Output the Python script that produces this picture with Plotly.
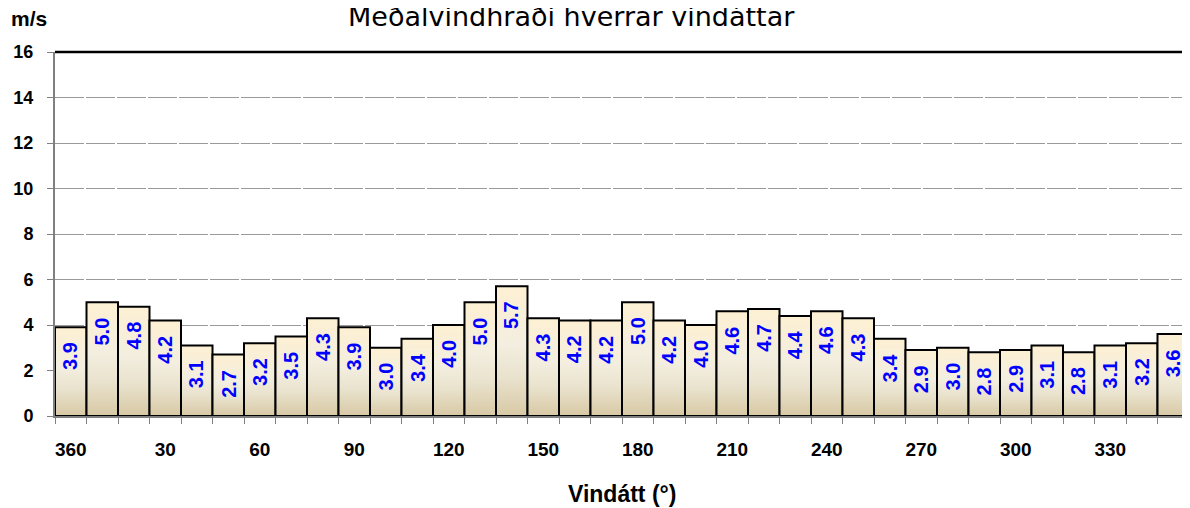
import plotly.graph_objects as go

title_text = "Meðalvindhraði hverrar vindáttar"
directions = list(range(0, 360, 10))
speed = [3.9, 5.0, 4.8, 4.2, 3.1, 2.7, 3.2, 3.5, 4.3, 3.9, 3.0, 3.4,
         4.0, 5.0, 5.7, 4.3, 4.2, 4.2, 5.0, 4.2, 4.0, 4.6, 4.7, 4.4,
         4.6, 4.3, 3.4, 2.9, 3.0, 2.8, 2.9, 3.1, 2.8, 3.1, 3.2, 3.6]
tick_labels = ["360" if d == 0 else str(d) for d in directions]

bar_scale = [[0, "#D8C9A5"], [0.3, "#E9E2CD"], [0.55, "#F3EEDF"], [1, "#FDF0D3"]]
FONT = "Liberation Sans, Arial, sans-serif"

# the page body adds an 8px offset, so the figure is laid out in window pixels minus that
OFF = 8
W, H = 1190 - OFF, 508 - OFF
ml, mt = 55 - OFF, 52 - OFF
mr = W - (1189 - OFF)
mb = H - (416 - OFF)
pw, ph = W - ml - mr, H - mt - mb


def px_x(x):
    return (x - OFF - ml) / pw


def px_y(y):
    return (H - (y - OFF) - mb) / ph


fig = go.Figure()

# each bar drawn as a filled box so it can carry a vertical gradient
for i, v in enumerate(speed):
    fig.add_trace(go.Scatter(
        x=[i - 0.5, i - 0.5, i + 0.5, i + 0.5, i - 0.5],
        y=[0, v, v, 0, 0],
        mode="lines", fill="toself",
        fillgradient=dict(type="vertical", colorscale=bar_scale, start=0, stop=v),
        line=dict(color="black", width=2),
        hoverinfo="skip", showlegend=False,
    ))

for i, v in enumerate(speed):
    fig.add_annotation(x=i, y=v, text="<b>%.1f</b>" % v, textangle=-90, showarrow=False,
                       xanchor="center", yanchor="middle", yshift=-29,
                       font=dict(family=FONT, size=20, color="#0000FF"))

fig.add_annotation(x=px_x(571), y=px_y(22), xref="paper", yref="paper", text=title_text,
                   showarrow=False, xanchor="center", yanchor="bottom", yshift=-12,
                   font=dict(family="DejaVu Sans", size=27, color="black"))
fig.add_annotation(x=px_x(29), y=px_y(18), xref="paper", yref="paper", text="<b>m/s</b>",
                   showarrow=False, xanchor="center", yanchor="middle",
                   font=dict(family=FONT, size=21, color="black"))
fig.add_annotation(x=px_x(622), y=px_y(494), xref="paper", yref="paper", text="<b>Vindátt (°)</b>",
                   showarrow=False, xanchor="center", yanchor="middle",
                   font=dict(family=FONT, size=23, color="black"))

fig.add_shape(type="line", xref="paper", yref="paper", x0=0, x1=1, y0=1, y1=1,
              line=dict(color="black", width=2.5))
fig.add_shape(type="line", xref="paper", yref="paper", x0=1, x1=1, y0=0, y1=1,
              line=dict(color="#808080", width=1))

fig.update_layout(
    width=W, height=H,
    margin=dict(l=ml, r=mr, t=mt, b=mb),
    plot_bgcolor="white", paper_bgcolor="white",
    showlegend=False,
    font=dict(family=FONT, color="black"),
    xaxis=dict(range=[-0.5, 35.5], tickmode="array",
               tickvals=list(range(0, 36, 3)), ticktext=tick_labels[::3],
               ticks="", showgrid=False, zeroline=False,
               showline=True, linecolor="#808080", linewidth=2,
               ticklabelstandoff=15,
               tickfont=dict(family=FONT, size=19, color="black", weight="bold"),
               minor=dict(tickmode="linear", tick0=0.5, dtick=1, ticks="outside",
                          ticklen=6, tickcolor="#808080", tickwidth=1, showgrid=False)),
    yaxis=dict(range=[0, 16], dtick=2, ticks="outside", ticklen=6, tickcolor="#808080",
               showline=True, linecolor="#808080", linewidth=2, zeroline=False,
               showgrid=True, gridcolor="#9a9a9a", gridwidth=1, griddash="29px,2px",
               ticklabelstandoff=10,
               tickfont=dict(family=FONT, size=18, color="black", weight="bold")),
)

fig.write_html("out.html")
